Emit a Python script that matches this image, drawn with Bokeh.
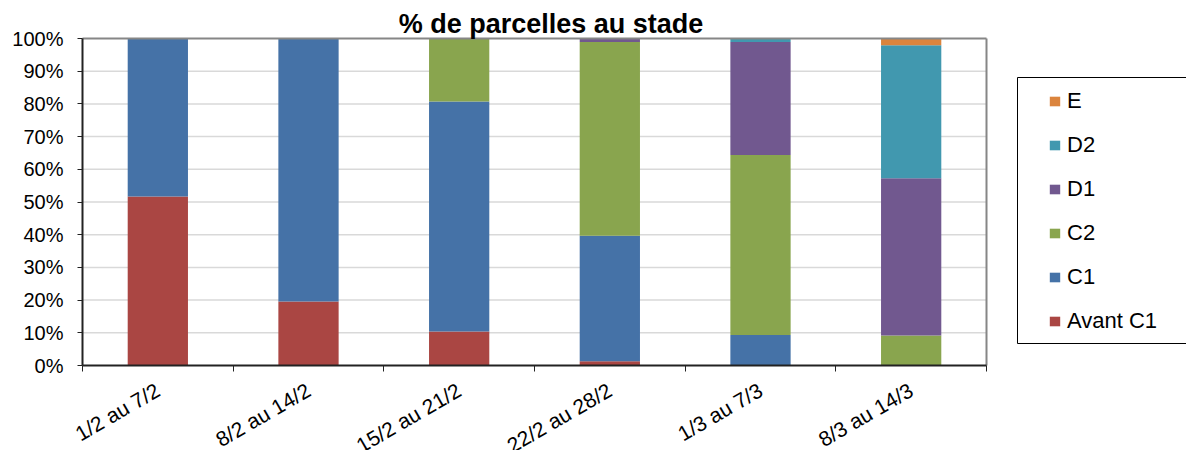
import math
from bokeh.plotting import figure
from bokeh.models import (Range1d, FixedTicker, PrintfTickFormatter, Legend,
                          LegendItem, ColumnDataSource, Label, BoxAnnotation)
from bokeh.embed import file_html
from bokeh.resources import INLINE

title = "% de parcelles au stade"
periods = ["1/2 au 7/2", "8/2 au 14/2", "15/2 au 21/2", "22/2 au 28/2",
           "1/3 au 7/3", "8/3 au 14/3"]
stages = ["Avant C1", "C1", "C2", "D1", "D2", "E"]

avant_c1 = [51.7, 19.6, 10.4, 1.3, 0.0, 0.0]
c1 = [48.3, 80.4, 70.3, 38.4, 9.3, 0.0]
c2 = [0.0, 0.0, 19.3, 59.2, 55.1, 9.2]
d1 = [0.0, 0.0, 0.0, 1.1, 34.5, 48.1]
d2 = [0.0, 0.0, 0.0, 0.0, 1.1, 40.6]
e = [0.0, 0.0, 0.0, 0.0, 0.0, 2.1]

colors = ["#AA4643", "#4572A7", "#89A54E", "#71588F", "#4198AF", "#DB843D"]
y_ticks = [0, 10, 20, 30, 40, 50, 60, 70, 80, 90, 100]

FONT = "Liberation Sans"
AXIS = "#222222"
BORDER = "#868686"
W, H = 1186, 450
# plot area in pixels: left 82, right 986, top 38, bottom 365
PL, PR, PT, PB = 82, 986, 38, 365
# legend frame in pixels
LL, LT, LB = 1017, 77, 343

n = len(periods)
x = [i + 0.5 for i in range(n)]
source = ColumnDataSource(dict(x=x, **dict(zip(stages, [avant_c1, c1, c2, d1, d2, e]))))

ux = (PR - PL) / n
uy = (PB - PT) / 100.0
p = figure(width=W, height=H, output_backend="svg", toolbar_location=None,
           x_range=Range1d(-PL / ux, n + (W - PR) / ux),
           y_range=Range1d(-(H - PB) / uy, 100 + PT / uy),
           min_border=0, title=None)
p.background_fill_color = "white"
p.border_fill_color = "white"
p.outline_line_color = None
p.grid.visible = False

# horizontal gridlines (behind bars)
p.segment(x0=[0] * (len(y_ticks) - 2), x1=[n] * (len(y_ticks) - 2),
          y0=y_ticks[1:-1], y1=y_ticks[1:-1], line_color="#D9D9D9", line_width=1.5)

renderers = p.vbar_stack(stages, x="x", width=0.4, fill_color=colors,
                         line_color=None, source=source)

# plot-area border (top and right), gray
p.segment(x0=[0, n], y0=[100, 0], x1=[n, n], y1=[100, 100],
          line_color=BORDER, line_width=2)

# title
p.add_layout(Label(x=550.5, y=H - 23, x_units="screen", y_units="screen",
                   text=title, text_font=FONT, text_font_size="27px",
                   text_font_style="bold", text_color="black",
                   text_align="center", text_baseline="alphabetic"))

# y axis at x = 0
yt = FixedTicker(ticks=y_ticks, minor_ticks=[])
p.yaxis.fixed_location = 0
p.yaxis.ticker = yt
p.yaxis.bounds = (0, 100)
p.yaxis.formatter = PrintfTickFormatter(format="%d%%")
p.yaxis.major_tick_out = 5
p.yaxis.major_tick_in = 0
p.yaxis.minor_tick_line_color = None
p.yaxis.major_label_standoff = 14
p.yaxis.major_label_text_font = FONT
p.yaxis.major_label_text_font_size = "20px"
p.yaxis.major_label_text_color = "black"
p.yaxis.axis_line_color = AXIS
p.yaxis.axis_line_width = 2
p.yaxis.major_tick_line_color = AXIS

# x axis at the 0% line
xt = FixedTicker(ticks=x, minor_ticks=list(range(n + 1)))
p.xaxis.fixed_location = 0
p.xaxis.bounds = (0, n)
p.xaxis.ticker = xt
p.xaxis.major_label_overrides = {xi: lab for xi, lab in zip(x, periods)}
p.xaxis.major_label_orientation = math.radians(30)
p.xaxis.major_tick_line_color = None
p.xaxis.major_tick_out = 0
p.xaxis.major_tick_in = 0
p.xaxis.minor_tick_out = 6
p.xaxis.minor_tick_in = 0
p.xaxis.minor_tick_line_color = AXIS
p.xaxis.major_label_standoff = 17
p.xaxis.major_label_text_font = FONT
p.xaxis.major_label_text_font_size = "21px"
p.xaxis.major_label_text_color = "black"
p.xaxis.axis_line_color = AXIS
p.xaxis.axis_line_width = 2

# legend frame (extends past the right edge, as in the reference)
p.add_layout(BoxAnnotation(left=(LL - PL) / ux, right=n + (W + 20 - PR) / ux,
                           top=100 - (LT - PT) / uy, bottom=100 - (LB - PT) / uy,
                           fill_color="white", fill_alpha=1,
                           line_color="black", line_width=1, line_alpha=1))

# legend (top item = last stage)
items = [LegendItem(label=s, renderers=[r])
         for s, r in reversed(list(zip(stages, renderers)))]
legend = Legend(items=items, location=(1048, H - LB + 9))
legend.border_line_color = None
legend.background_fill_alpha = 0
legend.label_text_font = FONT
legend.label_text_font_size = "22px"
legend.label_text_color = "black"
legend.glyph_width = 13
legend.glyph_height = 12
legend.label_height = 20
legend.spacing = 18
legend.padding = 10
legend.margin = 0
legend.label_standoff = 6
legend.label_width = 100
p.add_layout(legend, "center")

open("out.html", "w").write(file_html(p, INLINE))
